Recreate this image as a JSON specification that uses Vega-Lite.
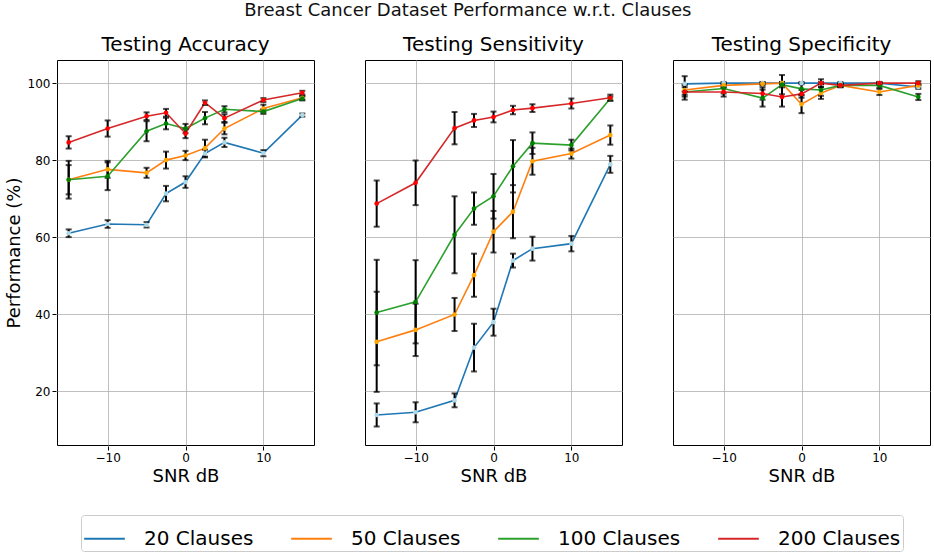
{
  "$schema": "https://vega.github.io/schema/vega-lite/v6.json",
  "description": "Breast cancer dataset performance by SNR and number of clauses",
  "padding": {"left": 5, "top": 2, "right": 0, "bottom": 0},
  "title": {
    "text": "Breast Cancer Dataset Performance w.r.t. Clauses",
    "fontSize": 18,
    "fontWeight": "normal",
    "font": "DejaVu Sans",
    "color": "#111111",
    "anchor": "middle",
    "offset": 15
  },
  "data": {
    "values": [
      {"metric": "Testing Accuracy", "clauses": "20 Clauses", "snr": -15, "value": 61.0, "err": 1.0},
      {"metric": "Testing Accuracy", "clauses": "20 Clauses", "snr": -10, "value": 63.4, "err": 1.0},
      {"metric": "Testing Accuracy", "clauses": "20 Clauses", "snr": -5, "value": 63.2, "err": 0.7},
      {"metric": "Testing Accuracy", "clauses": "20 Clauses", "snr": -2.5, "value": 71.3, "err": 2.0},
      {"metric": "Testing Accuracy", "clauses": "20 Clauses", "snr": 0, "value": 74.3, "err": 1.5},
      {"metric": "Testing Accuracy", "clauses": "20 Clauses", "snr": 2.5, "value": 81.7, "err": 1.0},
      {"metric": "Testing Accuracy", "clauses": "20 Clauses", "snr": 5, "value": 84.6, "err": 1.2},
      {"metric": "Testing Accuracy", "clauses": "20 Clauses", "snr": 10, "value": 81.8, "err": 0.8},
      {"metric": "Testing Accuracy", "clauses": "20 Clauses", "snr": 15, "value": 91.7, "err": 0.4},
      {"metric": "Testing Accuracy", "clauses": "50 Clauses", "snr": -15, "value": 74.9, "err": 3.8},
      {"metric": "Testing Accuracy", "clauses": "50 Clauses", "snr": -10, "value": 77.6, "err": 2.2},
      {"metric": "Testing Accuracy", "clauses": "50 Clauses", "snr": -5, "value": 76.7, "err": 1.3},
      {"metric": "Testing Accuracy", "clauses": "50 Clauses", "snr": -2.5, "value": 80.0, "err": 2.2},
      {"metric": "Testing Accuracy", "clauses": "50 Clauses", "snr": 0, "value": 81.2, "err": 1.2},
      {"metric": "Testing Accuracy", "clauses": "50 Clauses", "snr": 2.5, "value": 83.1, "err": 2.2},
      {"metric": "Testing Accuracy", "clauses": "50 Clauses", "snr": 5, "value": 88.2, "err": 1.5},
      {"metric": "Testing Accuracy", "clauses": "50 Clauses", "snr": 10, "value": 93.4, "err": 1.0},
      {"metric": "Testing Accuracy", "clauses": "50 Clauses", "snr": 15, "value": 96.2, "err": 0.5},
      {"metric": "Testing Accuracy", "clauses": "100 Clauses", "snr": -15, "value": 74.9, "err": 4.9},
      {"metric": "Testing Accuracy", "clauses": "100 Clauses", "snr": -10, "value": 75.8, "err": 3.6},
      {"metric": "Testing Accuracy", "clauses": "100 Clauses", "snr": -5, "value": 87.5, "err": 2.6},
      {"metric": "Testing Accuracy", "clauses": "100 Clauses", "snr": -2.5, "value": 89.5, "err": 1.5},
      {"metric": "Testing Accuracy", "clauses": "100 Clauses", "snr": 0, "value": 88.2, "err": 1.2},
      {"metric": "Testing Accuracy", "clauses": "100 Clauses", "snr": 2.5, "value": 90.9, "err": 1.6},
      {"metric": "Testing Accuracy", "clauses": "100 Clauses", "snr": 5, "value": 93.2, "err": 0.8},
      {"metric": "Testing Accuracy", "clauses": "100 Clauses", "snr": 10, "value": 92.6, "err": 0.6},
      {"metric": "Testing Accuracy", "clauses": "100 Clauses", "snr": 15, "value": 96.0, "err": 0.5},
      {"metric": "Testing Accuracy", "clauses": "200 Clauses", "snr": -15, "value": 84.6, "err": 1.6},
      {"metric": "Testing Accuracy", "clauses": "200 Clauses", "snr": -10, "value": 88.2, "err": 2.1},
      {"metric": "Testing Accuracy", "clauses": "200 Clauses", "snr": -5, "value": 91.4, "err": 1.0},
      {"metric": "Testing Accuracy", "clauses": "200 Clauses", "snr": -2.5, "value": 92.3, "err": 1.0},
      {"metric": "Testing Accuracy", "clauses": "200 Clauses", "snr": 0, "value": 86.9, "err": 1.2},
      {"metric": "Testing Accuracy", "clauses": "200 Clauses", "snr": 2.5, "value": 94.9, "err": 0.6},
      {"metric": "Testing Accuracy", "clauses": "200 Clauses", "snr": 5, "value": 90.9, "err": 1.0},
      {"metric": "Testing Accuracy", "clauses": "200 Clauses", "snr": 10, "value": 95.6, "err": 0.5},
      {"metric": "Testing Accuracy", "clauses": "200 Clauses", "snr": 15, "value": 97.5, "err": 0.5},
      {"metric": "Testing Sensitivity", "clauses": "20 Clauses", "snr": -15, "value": 13.8, "err": 3.0},
      {"metric": "Testing Sensitivity", "clauses": "20 Clauses", "snr": -10, "value": 14.5, "err": 2.6},
      {"metric": "Testing Sensitivity", "clauses": "20 Clauses", "snr": -5, "value": 17.6, "err": 1.8},
      {"metric": "Testing Sensitivity", "clauses": "20 Clauses", "snr": -2.5, "value": 31.3, "err": 6.2},
      {"metric": "Testing Sensitivity", "clauses": "20 Clauses", "snr": 0, "value": 37.9, "err": 3.5},
      {"metric": "Testing Sensitivity", "clauses": "20 Clauses", "snr": 2.5, "value": 53.9, "err": 1.8},
      {"metric": "Testing Sensitivity", "clauses": "20 Clauses", "snr": 5, "value": 57.0, "err": 3.1},
      {"metric": "Testing Sensitivity", "clauses": "20 Clauses", "snr": 10, "value": 58.3, "err": 2.0},
      {"metric": "Testing Sensitivity", "clauses": "20 Clauses", "snr": 15, "value": 78.9, "err": 2.2},
      {"metric": "Testing Sensitivity", "clauses": "50 Clauses", "snr": -15, "value": 32.8, "err": 13.0},
      {"metric": "Testing Sensitivity", "clauses": "50 Clauses", "snr": -10, "value": 35.9, "err": 6.8},
      {"metric": "Testing Sensitivity", "clauses": "50 Clauses", "snr": -5, "value": 39.9, "err": 4.3},
      {"metric": "Testing Sensitivity", "clauses": "50 Clauses", "snr": -2.5, "value": 50.1, "err": 5.6},
      {"metric": "Testing Sensitivity", "clauses": "50 Clauses", "snr": 0, "value": 61.4, "err": 5.4},
      {"metric": "Testing Sensitivity", "clauses": "50 Clauses", "snr": 2.5, "value": 66.6, "err": 6.9},
      {"metric": "Testing Sensitivity", "clauses": "50 Clauses", "snr": 5, "value": 79.7, "err": 3.5},
      {"metric": "Testing Sensitivity", "clauses": "50 Clauses", "snr": 10, "value": 81.7, "err": 1.3},
      {"metric": "Testing Sensitivity", "clauses": "50 Clauses", "snr": 15, "value": 86.5, "err": 2.5},
      {"metric": "Testing Sensitivity", "clauses": "100 Clauses", "snr": -15, "value": 40.4, "err": 13.7},
      {"metric": "Testing Sensitivity", "clauses": "100 Clauses", "snr": -10, "value": 43.2, "err": 10.8},
      {"metric": "Testing Sensitivity", "clauses": "100 Clauses", "snr": -5, "value": 60.6, "err": 10.0},
      {"metric": "Testing Sensitivity", "clauses": "100 Clauses", "snr": -2.5, "value": 67.4, "err": 4.2},
      {"metric": "Testing Sensitivity", "clauses": "100 Clauses", "snr": 0, "value": 70.6, "err": 5.8},
      {"metric": "Testing Sensitivity", "clauses": "100 Clauses", "snr": 2.5, "value": 78.4, "err": 6.8},
      {"metric": "Testing Sensitivity", "clauses": "100 Clauses", "snr": 5, "value": 84.4, "err": 2.8},
      {"metric": "Testing Sensitivity", "clauses": "100 Clauses", "snr": 10, "value": 83.9, "err": 1.4},
      {"metric": "Testing Sensitivity", "clauses": "100 Clauses", "snr": 15, "value": 96.0, "err": 0.5},
      {"metric": "Testing Sensitivity", "clauses": "200 Clauses", "snr": -15, "value": 68.7, "err": 6.0},
      {"metric": "Testing Sensitivity", "clauses": "200 Clauses", "snr": -10, "value": 74.1, "err": 5.8},
      {"metric": "Testing Sensitivity", "clauses": "200 Clauses", "snr": -5, "value": 88.3, "err": 4.2},
      {"metric": "Testing Sensitivity", "clauses": "200 Clauses", "snr": -2.5, "value": 90.3, "err": 1.7},
      {"metric": "Testing Sensitivity", "clauses": "200 Clauses", "snr": 0, "value": 91.2, "err": 1.4},
      {"metric": "Testing Sensitivity", "clauses": "200 Clauses", "snr": 2.5, "value": 93.0, "err": 1.1},
      {"metric": "Testing Sensitivity", "clauses": "200 Clauses", "snr": 5, "value": 93.5, "err": 1.0},
      {"metric": "Testing Sensitivity", "clauses": "200 Clauses", "snr": 10, "value": 94.7, "err": 1.3},
      {"metric": "Testing Sensitivity", "clauses": "200 Clauses", "snr": 15, "value": 96.2, "err": 0.8},
      {"metric": "Testing Specificity", "clauses": "20 Clauses", "snr": -15, "value": 99.8, "err": 2.0},
      {"metric": "Testing Specificity", "clauses": "20 Clauses", "snr": -10, "value": 100.0, "err": 0.3},
      {"metric": "Testing Specificity", "clauses": "20 Clauses", "snr": -5, "value": 100.0, "err": 0.3},
      {"metric": "Testing Specificity", "clauses": "20 Clauses", "snr": -2.5, "value": 100.0, "err": 0.3},
      {"metric": "Testing Specificity", "clauses": "20 Clauses", "snr": 0, "value": 100.0, "err": 0.3},
      {"metric": "Testing Specificity", "clauses": "20 Clauses", "snr": 2.5, "value": 100.0, "err": 0.3},
      {"metric": "Testing Specificity", "clauses": "20 Clauses", "snr": 5, "value": 100.0, "err": 0.3},
      {"metric": "Testing Specificity", "clauses": "20 Clauses", "snr": 10, "value": 100.0, "err": 0.3},
      {"metric": "Testing Specificity", "clauses": "20 Clauses", "snr": 15, "value": 99.0, "err": 0.5},
      {"metric": "Testing Specificity", "clauses": "50 Clauses", "snr": -15, "value": 98.2, "err": 1.2},
      {"metric": "Testing Specificity", "clauses": "50 Clauses", "snr": -10, "value": 99.4, "err": 0.5},
      {"metric": "Testing Specificity", "clauses": "50 Clauses", "snr": -5, "value": 99.8, "err": 0.4},
      {"metric": "Testing Specificity", "clauses": "50 Clauses", "snr": -2.5, "value": 100.0, "err": 0.3},
      {"metric": "Testing Specificity", "clauses": "50 Clauses", "snr": 0, "value": 94.5, "err": 2.3},
      {"metric": "Testing Specificity", "clauses": "50 Clauses", "snr": 2.5, "value": 97.4, "err": 1.5},
      {"metric": "Testing Specificity", "clauses": "50 Clauses", "snr": 5, "value": 99.4, "err": 0.4},
      {"metric": "Testing Specificity", "clauses": "50 Clauses", "snr": 10, "value": 97.7, "err": 0.8},
      {"metric": "Testing Specificity", "clauses": "50 Clauses", "snr": 15, "value": 99.4, "err": 0.5},
      {"metric": "Testing Specificity", "clauses": "100 Clauses", "snr": -15, "value": 97.7, "err": 2.0},
      {"metric": "Testing Specificity", "clauses": "100 Clauses", "snr": -10, "value": 98.6, "err": 1.3},
      {"metric": "Testing Specificity", "clauses": "100 Clauses", "snr": -5, "value": 96.1, "err": 2.2},
      {"metric": "Testing Specificity", "clauses": "100 Clauses", "snr": -2.5, "value": 99.6, "err": 2.5},
      {"metric": "Testing Specificity", "clauses": "100 Clauses", "snr": 0, "value": 98.5, "err": 1.5},
      {"metric": "Testing Specificity", "clauses": "100 Clauses", "snr": 2.5, "value": 98.2, "err": 1.5},
      {"metric": "Testing Specificity", "clauses": "100 Clauses", "snr": 5, "value": 99.4, "err": 0.4},
      {"metric": "Testing Specificity", "clauses": "100 Clauses", "snr": 10, "value": 99.4, "err": 0.6},
      {"metric": "Testing Specificity", "clauses": "100 Clauses", "snr": 15, "value": 96.4, "err": 0.8},
      {"metric": "Testing Specificity", "clauses": "200 Clauses", "snr": -15, "value": 97.7, "err": 1.2},
      {"metric": "Testing Specificity", "clauses": "200 Clauses", "snr": -10, "value": 97.7, "err": 1.2},
      {"metric": "Testing Specificity", "clauses": "200 Clauses", "snr": -5, "value": 97.3, "err": 1.6},
      {"metric": "Testing Specificity", "clauses": "200 Clauses", "snr": -2.5, "value": 96.4, "err": 2.5},
      {"metric": "Testing Specificity", "clauses": "200 Clauses", "snr": 0, "value": 97.2, "err": 1.0},
      {"metric": "Testing Specificity", "clauses": "200 Clauses", "snr": 2.5, "value": 100.0, "err": 1.0},
      {"metric": "Testing Specificity", "clauses": "200 Clauses", "snr": 5, "value": 99.4, "err": 0.5},
      {"metric": "Testing Specificity", "clauses": "200 Clauses", "snr": 10, "value": 100.0, "err": 0.3},
      {"metric": "Testing Specificity", "clauses": "200 Clauses", "snr": 15, "value": 100.0, "err": 0.5}
    ]
  },
  "facet": {
    "column": {
      "field": "metric",
      "type": "nominal",
      "sort": ["Testing Accuracy", "Testing Sensitivity", "Testing Specificity"],
      "title": null,
      "header": {
        "labelFontSize": 20,
        "labelFont": "DejaVu Sans",
        "labelColor": "black",
        "labelPadding": 4
      }
    }
  },
  "spacing": 49,
  "spec": {
    "width": 257,
    "height": 385,
    "layer": [
      {
        "mark": {"type": "line", "strokeWidth": 1.6},
        "encoding": {
          "x": {
            "field": "snr",
            "type": "quantitative",
            "scale": {"domain": [-16.5, 16.5], "nice": false, "zero": false},
            "axis": {"values": [-10, 0, 10], "title": "SNR dB"}
          },
          "y": {
            "field": "value",
            "type": "quantitative",
            "scale": {"domain": [6, 106], "nice": false, "zero": false},
            "axis": {"values": [20, 40, 60, 80, 100], "title": "Performance (%)"}
          },
          "color": {
            "field": "clauses",
            "type": "nominal",
            "scale": {
              "domain": ["20 Clauses", "50 Clauses", "100 Clauses", "200 Clauses"],
              "range": ["#1f77b4", "#ff7f0e", "#2ca02c", "#d62728"]
            },
            "legend": {
              "title": null,
              "orient": "none",
              "legendX": 24,
              "legendY": 455,
              "direction": "horizontal",
              "symbolType": "stroke",
              "symbolStrokeWidth": 2,
              "symbolSize": 1650,
              "labelFontSize": 20,
              "labelFont": "DejaVu Sans",
              "labelColor": "black",
              "labelOffset": 18,
              "columnPadding": 33,
              "padding": 2,
              "strokeColor": "#cccccc",
              "cornerRadius": 3
            }
          },
          "detail": {"field": "clauses"}
        }
      },
      {
        "mark": {"type": "errorbar", "ticks": {"thickness": 2}, "size": 6, "thickness": 2, "color": "black"},
        "encoding": {
          "x": {"field": "snr", "type": "quantitative", "title": "SNR dB"},
          "y": {"field": "value", "type": "quantitative", "title": "Performance (%)"},
          "yError": {"field": "err"}
        }
      },
      {
        "mark": {"type": "circle", "size": 22, "opacity": 1},
        "encoding": {
          "x": {"field": "snr", "type": "quantitative", "title": "SNR dB"},
          "y": {"field": "value", "type": "quantitative", "title": "Performance (%)"},
          "fill": {
            "field": "clauses",
            "type": "nominal",
            "scale": {
              "domain": ["20 Clauses", "50 Clauses", "100 Clauses", "200 Clauses"],
              "range": ["#add8e6", "#ffa500", "#008000", "#ff0000"]
            },
            "legend": null
          }
        }
      }
    ]
  },
  "config": {
    "font": "DejaVu Sans",
    "view": {"stroke": "black", "strokeWidth": 1},
    "axis": {
      "domain": false,
      "grid": true,
      "gridColor": "#b0b0b0",
      "gridWidth": 0.8,
      "tickColor": "black",
      "tickSize": 4,
      "labelFontSize": 12,
      "labelColor": "black",
      "labelFont": "DejaVu Sans",
      "titleFontSize": 18,
      "titleFont": "DejaVu Sans",
      "titleFontWeight": "normal",
      "titleColor": "black",
      "titlePadding": 4
    }
  }
}
